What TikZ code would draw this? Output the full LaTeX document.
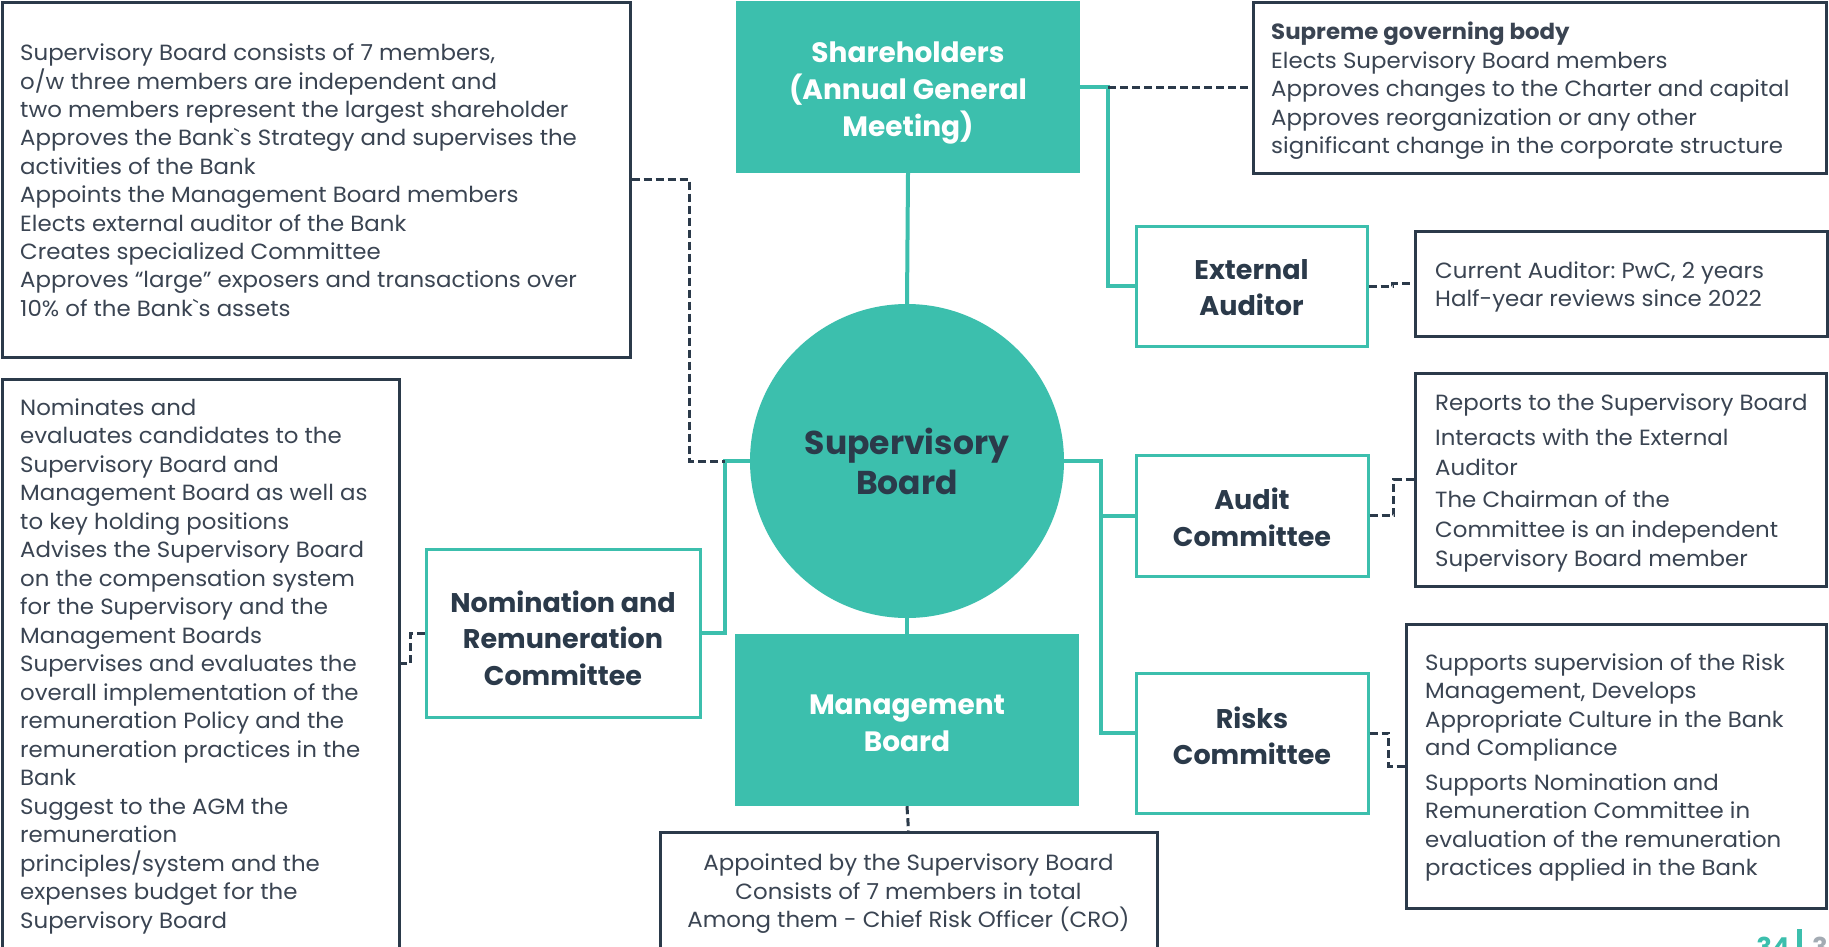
\documentclass[tikz,border=0pt]{standalone}
\usepackage{fontspec}
\setmainfont{Poppins}[Ligatures=TeXOff]
\newfontfamily\bodyf{Poppins}[Ligatures=TeXOff,FakeStretch=1.04]
\usetikzlibrary{calc}
\definecolor{teal1}{HTML}{3CBFAD}
\definecolor{navy}{HTML}{2B3A4A}
\definecolor{txt}{HTML}{3A4452}
\definecolor{pggray}{HTML}{A3ABB3}
\begin{document}
\frenchspacing
\begin{tikzpicture}[x=1pt,y=-1pt,
  tealfill/.style={fill=teal1, draw=none, inner sep=0pt},
  tealline/.style={draw=teal1, line width=3pt, fill=white, inner sep=0pt},
  infobox/.style={draw=navy, line width=3pt, fill=white, inner sep=0pt},
  whitelabel/.style={text=white, align=center, inner sep=0pt, font=\bfseries\fontsize{28}{37}\selectfont},
  navylabel/.style={text=navy, align=center, inner sep=0pt, font=\bfseries\fontsize{27}{36.5}\selectfont},
  infotext/.style={text=txt, align=left, inner sep=0pt, anchor=west, font=\bodyf\fontsize{22}{28.5}\selectfont},
  tline/.style={draw=teal1, line width=4pt},
  dline/.style={draw=navy, line width=3pt, dash pattern=on 8pt off 4pt}]
\useasboundingbox (0,0) rectangle (1829,946);
\fill[white] (0,0) rectangle (1829,946);

% main shapes
\node[tealfill, minimum width=344pt, minimum height=172pt] (sh) at (908,87) {};
\node[circle, fill=teal1, draw=none, minimum size=314pt, inner sep=0pt] (sb) at (907,461) {};
\node[tealfill, minimum width=344pt, minimum height=172pt] (mb) at (907,720) {};
\node[tealline, minimum width=231pt, minimum height=120pt] (ea) at (1251.5,286) {};
\node[tealline, minimum width=232pt, minimum height=121pt] (au) at (1252,515.5) {};
\node[tealline, minimum width=232pt, minimum height=140pt] (rk) at (1252,743) {};
\node[tealline, minimum width=274pt, minimum height=168pt] (nom) at (563,633) {};

% info boxes
\node[infobox, minimum width=628pt, minimum height=355pt] (tl) at (316,179.5) {};
\node[infobox, minimum width=573pt, minimum height=171pt] (sup) at (1539.5,87.5) {};
\node[infobox, minimum width=412pt, minimum height=105pt] (eat) at (1621,283.5) {};
\node[infobox, minimum width=411pt, minimum height=213pt] (aut) at (1620.5,479.5) {};
\node[infobox, minimum width=420pt, minimum height=284pt] (rkt) at (1616,766) {};
\node[infobox, minimum width=497pt, minimum height=116pt] (mbt) at (908.5,890) {};
\node[infobox, minimum width=397pt, minimum height=569pt] (nomt) at (200.5,663.5) {};

% labels
\node[whitelabel] (shl) at (908,92.8) {Shareholders\\(Annual General\\Meeting)};
\node[navylabel, font=\bfseries\fontsize{33}{40}\selectfont] (sbl) at (907,461) {Supervisory\\Board};
\node[whitelabel] (mbl) at (907,723.4) {Management\\Board};
\node[navylabel] (eal) at (1251.5,287.7) {External\\Auditor};
\node[navylabel] (aul) at (1252,517.2) {Audit\\Committee};
\node[navylabel] (rkl) at (1252,736) {Risks\\Committee};
\node[navylabel] (noml) at (563,638.2) {Nomination and\\Remuneration\\Committee};

% info texts
\node[infotext, font=\bodyf\fontsize{22}{28.4}\selectfont] (tltx) at (20,180.3)
  {Supervisory Board consists of 7 members,\\
   o/w three members are independent and\\
   two members represent the largest shareholder\\
   Approves the Bank`s Strategy and supervises the\\
   activities of the Bank\\
   Appoints the Management Board members\\
   Elects external auditor of the Bank\\
   Creates specialized Committee\\
   Approves “large” exposers and transactions over\\
   10\% of the Bank`s assets};
\node[infotext] (suptx) at (1271,91.1)
  {\textbf{Supreme governing body}\\
   Elects Supervisory Board members\\
   Approves changes to the Charter and capital\\
   Approves reorganization or any other\\
   significant change in the corporate structure};
\node[infotext] (eattx) at (1435,287)
  {Current Auditor: PwC, 2 years\\
   Half-year reviews since 2022};
\node[infotext, font=\bodyf\fontsize{22}{29.5}\selectfont] (auttx) at (1435,483)
  {Reports to the Supervisory Board\\[5.5pt]
   Interacts with the External\\
   Auditor\\[3pt]
   The Chairman of the\\
   Committee is an independent\\
   Supervisory Board member};
\node[infotext] (rkttx) at (1425,767.5)
  {Supports supervision of the Risk\\
   Management, Develops\\
   Appropriate Culture in the Bank\\
   and Compliance\\[6pt]
   Supports Nomination and\\
   Remuneration Committee in\\
   evaluation of the remuneration\\
   practices applied in the Bank};
\node[infotext, anchor=center, align=center] (mbttx) at (908.5,894)
  {Appointed by the Supervisory Board\\
   Consists of 7 members in total\\
   Among them - Chief Risk Officer (CRO)};
\node[infotext] (nomttx) at (20,666.2)
  {Nominates and\\
   evaluates candidates to the\\
   Supervisory Board and\\
   Management Board as well as\\
   to key holding positions\\
   Advises the Supervisory Board\\
   on the compensation system\\
   for the Supervisory and the\\
   Management Boards\\
   Supervises and evaluates the\\
   overall implementation of the\\
   remuneration Policy and the\\
   remuneration practices in the\\
   Bank\\
   Suggest to the AGM the\\
   remuneration\\
   principles/system and the\\
   expenses budget for the\\
   Supervisory Board};

% teal connectors
\draw[tline] (sh.south) -- (sb.north);
\draw[tline] (sb.south) -- (mb.north);
\draw[tline] (sh.east) -- ++(28,0) coordinate (jr) |- (ea.west);
\draw[tline] (sb.east) -- ++(37,0) coordinate (jb) |- ([yshift=10pt]rk.west);
\draw[tline] (jb |- au.west) -- (au.west);
\draw[tline] (sb.west) -- ++(-25,0) coordinate (jl) |- (nom.east);

% dashed connectors
\draw[dline] (jr) -- (sup.west |- jr);
\draw[dline] (tl.east) -- ++(58,0) |- (jl);
\draw[dline] (mb.south) -- (mbt.north);
\draw[dline] (ea.east) -- ++(24,0) |- (eat.west);
\draw[dline] (au.east) -- ++(24,0) |- (aut.west);
\draw[dline] ([yshift=10pt]rk.east) -- ++(19,0) |- (rkt.west);
\draw[dline] (nom.west) -- ++(-14,0) |- (nomt.east);

% page number
\node[anchor=north east, inner sep=0pt, text=teal1, font=\bfseries\fontsize{26}{26}\selectfont] (pg) at (1790,937) {34};
\fill[teal1] (1797,929) rectangle (1802,950);
\node[anchor=north west, inner sep=0pt, text=pggray, font=\bfseries\fontsize{26}{26}\selectfont] (pg2) at (1812,937) {3};
\end{tikzpicture}
\end{document}
